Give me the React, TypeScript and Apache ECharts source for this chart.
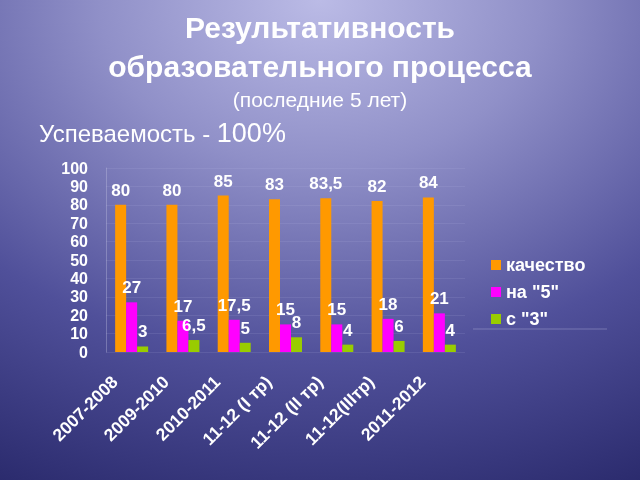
import React, { useEffect, useRef } from "react";
import * as echarts from "echarts";

const categories = ["2007-2008", "2009-2010", "2010-2011", "11-12 (I тр)", "11-12 (II тр)", "11-12(IIIтр)", "2011-2012"];
const quality = [80, 80, 85, 83, 83.5, 82, 84];
const fives = [27, 17, 17.5, 15, 15, 18, 21];
const threes = [3, 6.5, 5, 8, 4, 6, 4];
const seriesNames = ["качество", "на \"5\"", "с \"3\""];
const colors = ["#ff9900", "#ff00ff", "#99cc00"];
const titleLines = ["Результативность", "образовательного процесса"];
const subtitle = "(последние 5 лет)";
const progressLabel = "Успеваемость - ";
const progressValue = "100%";

const FONT = "'Liberation Sans', Arial, sans-serif";

export default function App() {
  const ref = useRef<HTMLDivElement>(null);
  useEffect(() => {
    if (!ref.current) return;
    const chart = echarts.init(ref.current, null, { renderer: "svg" });
    const label = {
      show: true,
      position: "top",
      distance: 6,
      color: "#ffffff",
      fontWeight: "bold",
      fontSize: 17,
      fontFamily: FONT,
      formatter: (p: any) => String(p.value).replace(".", ","),
    };
    const data = [quality, fives, threes];
    chart.setOption({
      animation: false,
      backgroundColor: {
        type: "radial",
        x: 0.5,
        y: 0,
        r: 1.15,
        colorStops: [
          { offset: 0, color: "#bbbbe6" },
          { offset: 0.3, color: "#9090c8" },
          { offset: 0.65, color: "#50509a" },
          { offset: 1, color: "#28286a" },
        ],
      },
      textStyle: { fontFamily: FONT },
      graphic: [
        {
          type: "text",
          x: 320,
          y: 27.5,
          style: { text: titleLines[0], fill: "#ffffff", font: `bold 30px ${FONT}`, align: "center", verticalAlign: "middle" },
        },
        {
          type: "text",
          x: 320,
          y: 66.5,
          style: { text: titleLines[1], fill: "#ffffff", font: `bold 30px ${FONT}`, align: "center", verticalAlign: "middle" },
        },
        {
          type: "text",
          x: 320,
          y: 99,
          style: { text: subtitle, fill: "#ffffff", font: `21px ${FONT}`, align: "center", verticalAlign: "middle" },
        },
        {
          type: "text",
          x: 39,
          y: 133,
          style: {
            text: `{a|${progressLabel}}{b|${progressValue}}`,
            verticalAlign: "middle",
            rich: {
              a: { fill: "#ffffff", fontSize: 24, fontFamily: FONT },
              b: { fill: "#ffffff", fontSize: 27, fontFamily: FONT },
            },
          },
        },
        {
          type: "line",
          shape: { x1: 473, y1: 329, x2: 607, y2: 329 },
          style: { stroke: "rgba(220,220,250,0.3)", lineWidth: 1 },
        },
      ],
      legend: {
        orient: "vertical",
        left: 486,
        top: 251,
        itemWidth: 10,
        itemHeight: 10,
        itemGap: 9,
        icon: "rect",
        data: seriesNames,
        textStyle: { color: "#ffffff", fontSize: 18, lineHeight: 18, fontWeight: "bold", fontFamily: FONT },
      },
      grid: { left: 106, right: 175, top: 168, bottom: 128, containLabel: false },
      xAxis: {
        type: "category",
        data: categories,
        axisLine: { show: false },
        axisTick: { show: false },
        axisLabel: {
          rotate: 45,
          interval: 0,
          margin: 10,
          padding: [0, 24, 0, 0],
          color: "#ffffff",
          fontSize: 17.5,
          fontWeight: "bold",
          fontFamily: FONT,
        },
      },
      yAxis: {
        type: "value",
        min: 0,
        max: 100,
        interval: 10,
        axisLine: { show: true, lineStyle: { color: "rgba(200,200,230,0.35)" } },
        axisTick: { show: false },
        splitLine: { show: true, lineStyle: { color: "rgba(200,200,240,0.12)" } },
        axisLabel: {
          margin: 18,
          color: "#ffffff",
          fontSize: 16,
          fontWeight: "bold",
          fontFamily: FONT,
        },
      },
      series: seriesNames.map((name, i) => ({
        name,
        type: "bar",
        data: data[i],
        barWidth: 11,
        barGap: "0%",
        itemStyle: { color: colors[i] },
        label,
      })),
    });
    return () => chart.dispose();
  }, []);
  return (
    <div
      ref={ref}
      style={{ position: "fixed", left: 0, top: 0, width: 640, height: 480 }}
    />
  );
}
